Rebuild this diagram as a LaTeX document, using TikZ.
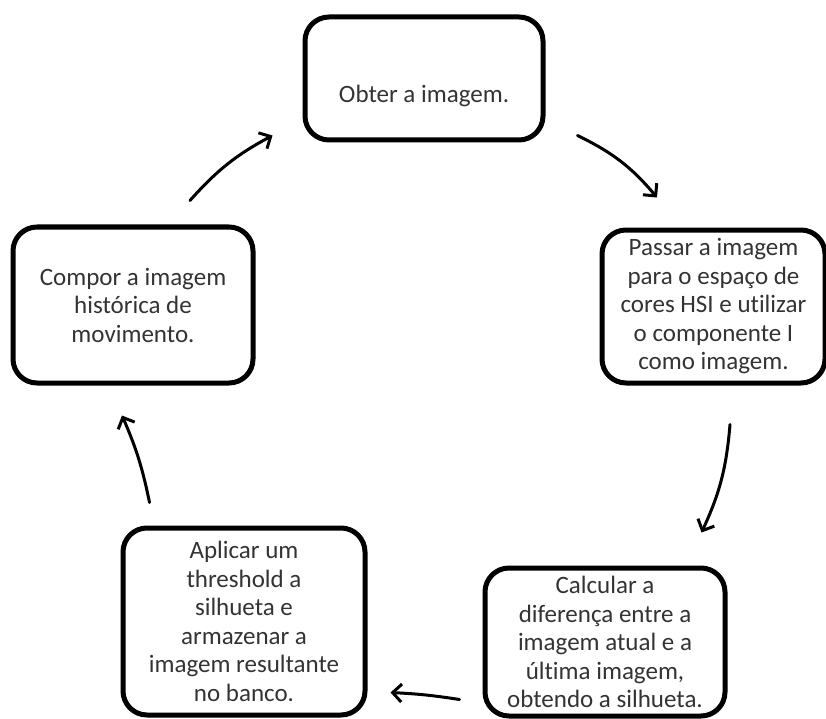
\documentclass[tikz,border=0pt]{standalone}
\usepackage{fontspec}
\setmainfont[Ligatures=NoCommon]{Carlito}
\usetikzlibrary{arrows.meta}

\begin{document}
\begin{tikzpicture}[x=1pt,y=-1pt,line join=round,line cap=round,>={Straight Barb[length=9pt,width=18pt]},
 etapa/.style={draw,line width=5pt,rounded corners=24pt,align=center,inner sep=0pt,
  font=\fontsize{25}{28.5}\selectfont,text=black!80},
 seta/.style={->,line width=3pt}]
 \useasboundingbox (0,0) rectangle (826,719);
 \node[etapa,minimum width=238pt,minimum height=123pt,text height=48pt,text depth=0pt] (obter) at (424,78.5) {Obter a imagem.};
 \node[etapa,minimum width=223pt,minimum height=153pt] (passar) at (713.5,306.5) {Passar a imagem\\para o espaço de\\cores HSI e utilizar\\o componente I\\como imagem.};
 \node[etapa,minimum width=240pt,minimum height=148pt] (calcular) at (605,642) {Calcular a\\diferença entre a\\imagem atual e a\\última imagem,\\obtendo a silhueta.};
 \node[etapa,minimum width=242pt,minimum height=187pt] (aplicar) at (244,621.5) {Aplicar um\\threshold a\\silhueta e\\armazenar a\\imagem resultante\\no banco.};
 \node[etapa,minimum width=240pt,minimum height=156pt] (compor) at (133,305) {Compor a imagem\\histórica de\\movimento.};
 % setas do ciclo
 \draw[seta] ([xshift=57pt,yshift=24pt]compor.north) to[bend left=10] ([xshift=-30pt,yshift=7pt]obter.south west);
 \draw[seta] ([xshift=32pt,yshift=7pt]obter.south east) to[bend left=12] ([xshift=-56.5pt,yshift=30pt]passar.north);
 \draw[seta] ([xshift=16.5pt,yshift=-39pt]passar.south) to[bend left=10] ([xshift=-26pt,yshift=33pt]calcular.north east);
 \draw[seta] ([xshift=-23pt,yshift=19pt]calcular.south west) to[bend right=3] ([xshift=23pt,yshift=25pt]aplicar.south east);
 \draw[seta] ([xshift=29pt,yshift=23pt]aplicar.north west) to[bend right=6] ([xshift=-11pt,yshift=-30pt]compor.south);
\end{tikzpicture}
\end{document}
